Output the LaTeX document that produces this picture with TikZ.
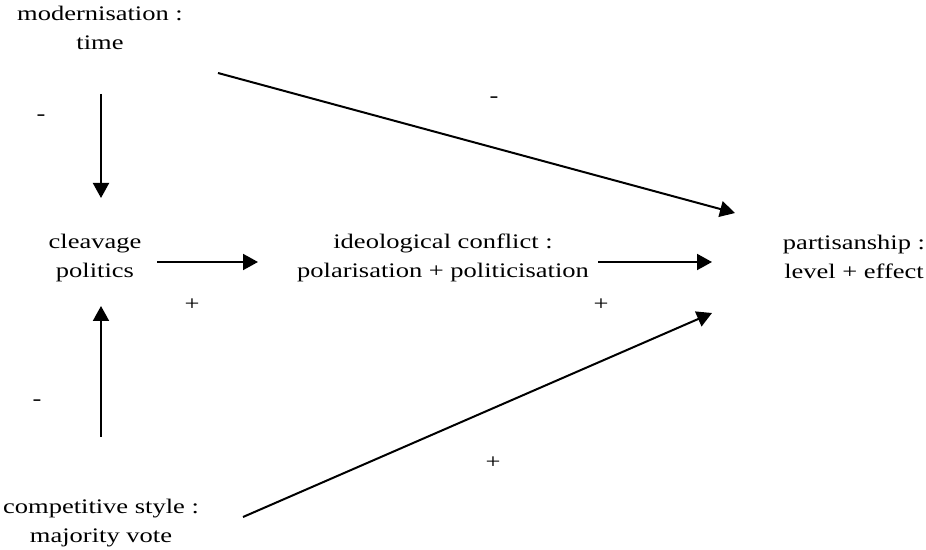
\documentclass[tikz,border=0pt]{standalone}
\usepackage{fontspec}
\setmainfont{Liberation Serif}[FakeStretch=1.28]
\usetikzlibrary{arrows.meta}
\begin{document}
\begin{tikzpicture}[x=0.5pt,y=-0.5pt,font=\fontsize{10.35}{14.2}\selectfont,
        box/.style={align=center,inner sep=0pt},
        sign/.style={inner sep=0pt},
        >={Triangle[length=7.5pt,width=8pt]}]
                \useasboundingbox (0,0) rectangle (926,550);
                \node[box] (T) at (100, 28) {modernisation :\\ time};
                \node[box] (C) at (95, 258) {cleavage\\ politics};
                \node[box] (I) at (443, 258) {ideological conflict :\\ polarisation + politicisation};
                \node[box] (P) at (854, 257) {partisanship :\\ level + effect};
                \node[box] (V) at (101, 523) {competitive style :\\ majority vote};

                \node[sign] (m1) at (41, 118) {-};
                \node[sign] (m2) at (494, 100) {-};
                \node[sign] (m3) at (37, 403) {-};
                \node[sign] (p1) at (192, 305) {+};
                \node[sign] (p2) at (601, 305) {+};
                \node[sign] (p3) at (493, 463) {+};

                \draw[line width=1pt,->] ([shift={(1,66)}]T.center) -- ([shift={(6,-60)}]C.center);
                \draw[line width=1pt,->] ([shift={(0,-86)}]V.center) -- ([shift={(6,48)}]C.center);
                \draw[line width=1pt,->] ([shift={(62,4)}]C.center) -- ([shift={(-185,4)}]I.center);
                \draw[line width=1pt,->] ([shift={(155,4)}]I.center) -- ([shift={(-142,5)}]P.center);
                \draw[line width=1pt,->] ([shift={(118,45)}]T.center) -- ([shift={(-119,-44)}]P.center);
                \draw[line width=1pt,->] ([shift={(142,-6)}]V.center) -- ([shift={(-142,56)}]P.center);
            \end{tikzpicture}
\end{document}
